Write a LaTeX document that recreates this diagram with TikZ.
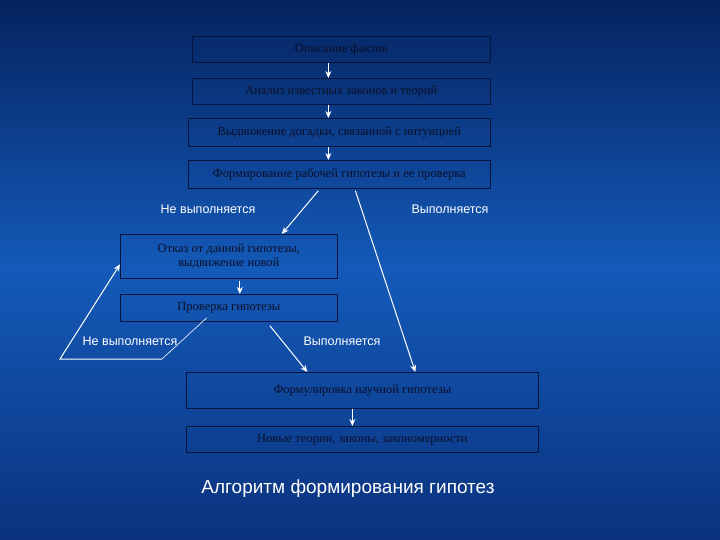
\documentclass[tikz,border=0pt]{standalone}
\usepackage{fontspec}
\setmainfont{Liberation Serif}
\newfontfamily\lsans{Liberation Sans}
\usetikzlibrary{arrows.meta,calc}
\definecolor{bgtop}{RGB}{5,35,95}
\definecolor{bgmid}{RGB}{20,90,185}
\definecolor{bgbot}{RGB}{10,50,125}
\definecolor{boxline}{RGB}{5,20,60}
\definecolor{boxtext}{RGB}{10,15,40}
\begin{document}
\begin{tikzpicture}[x=1pt,y=-1pt,
  box/.style={draw=boxline,line width=0.7pt,minimum height=26pt,inner sep=1pt,font=\fontsize{12.5}{14}\selectfont,text=boxtext,align=center,anchor=north west},
  lab/.style={text=white,font=\lsans\fontsize{12.5}{14}\selectfont},
  arr/.style={white,line width=1pt,-{Stealth[length=7pt,width=6pt]}}]
\useasboundingbox (0,0) rectangle (720,540);
\shade[top color=bgtop, bottom color=bgbot, middle color=bgmid] (0,0) rectangle (720,540);
\node[box,minimum width=298pt] (b1) at (192,36) {Описание фактов};
\node[box,minimum width=298pt] (b2) at (192,78) {Анализ известных законов и теорий};
\node[box,minimum width=302pt,minimum height=28pt] (b3) at (188,118) {Выдвижение догадки, связанной с интуицией};
\node[box,minimum width=302pt,minimum height=28pt] (b4) at (188,160) {Формирование рабочей гипотезы и ее проверка};
\node[lab] (l1) at (208,209) {Не выполняется};
\node[lab] (l2) at (450,209) {Выполняется};
\node[box,minimum width=217pt,minimum height=44pt] (b5) at (120,234) {Отказ от данной гипотезы,\\выдвижение новой};
\node[box,minimum width=217pt,minimum height=27pt] (b6) at (120,294) {Проверка гипотезы};
\node[lab] (l3) at (130,341) {Не выполняется};
\node[lab] (l4) at (342,341) {Выполняется};
\node[box,minimum width=352pt,minimum height=36pt] (b7) at (186,372) {Формулировка научной гипотезы};
\node[box,minimum width=352pt,minimum height=26pt] (b8) at (186,426) {Новые теории, законы, закономерности};
\node[text=white,font=\lsans\fontsize{19}{22}\selectfont] (t) at (348,489) {Алгоритм формирования гипотез};
\draw[arr] ($(b1.south)+(-13,0)$) -- ($(b2.north)+(-13,0)$);
\draw[arr] ($(b2.south)+(-13,0)$) -- ($(b3.north)+(-11,0)$);
\draw[arr] ($(b3.south)+(-11,0)$) -- ($(b4.north)+(-11,0)$);
\draw[arr] ($(b4.south)+(-21,2)$) -- ($(b5.north)+(53,0)$);
\draw[arr] ($(b4.south)+(16,2)$) -- ($(b7.north)+(53,0)$);
\draw[arr] ($(b5.south)+(11,2)$) -- ($(b6.north)+(11,0)$);
\draw[arr] ($(b6.south)+(41,4)$) -- ($(b7.north)+(-55,0)$);
\draw[arr] ($(b7.south)+(-10,0)$) -- ($(b8.north)+(-10,0)$);
\coordinate (c1) at (162,359);
\coordinate (c2) at (60,359);
\draw[white,line width=0.6pt] ($(b6.south)+(-22,-4)$) -- (c1);
\draw[arr] (c1) -- (c2) -- ($(b5.west)+(0,8)$);
\end{tikzpicture}
\end{document}
